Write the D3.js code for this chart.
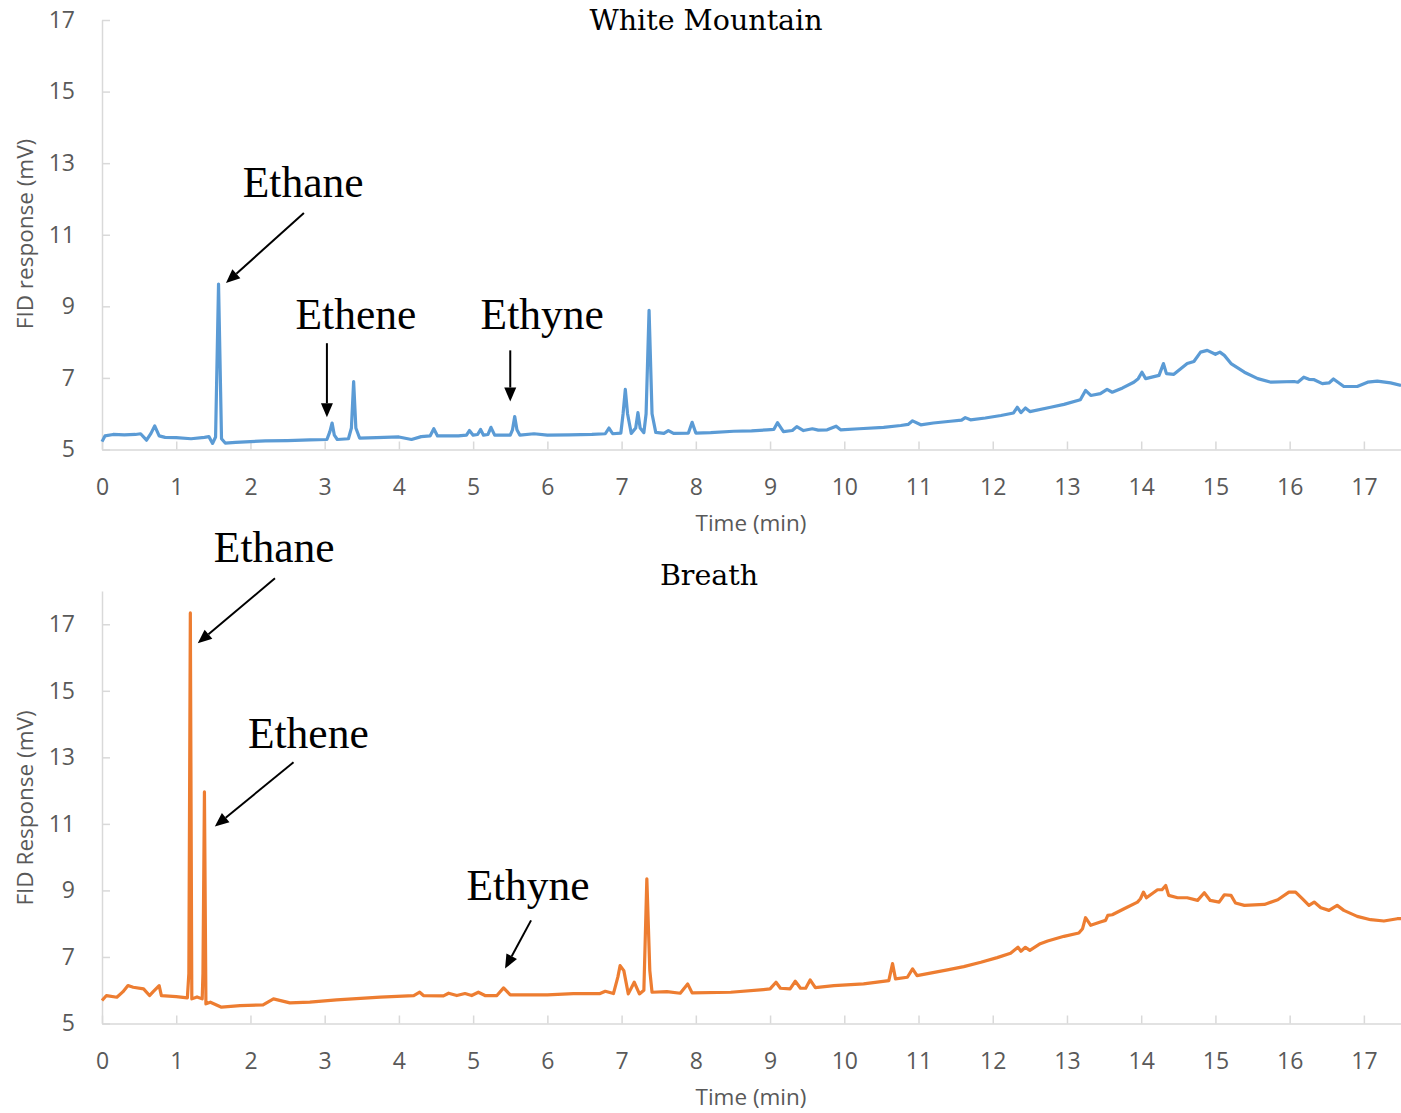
<!DOCTYPE html>
<html>
<head>
<meta charset="utf-8">
<script src="https://cdn.jsdelivr.net/npm/d3@7"></script>
<style>
  body { margin: 0; background: #fff; }
  .tick text { font-family: "Open Sans", sans-serif; fill: #595959; }
  .axis-title { font-family: "Open Sans", sans-serif; fill: #595959; }
  .chart-title { font-family: "DejaVu Serif", serif; fill: #000; }
  .annot { font-family: "Liberation Serif", "Times New Roman", serif; fill: #000; }
</style>
</head>
<body>
<div id="chart"></div>
<script>
// chromatograms: [time (min), FID (mV)]
var whiteMountain = [
  [0, 5.22], [0.04, 5.38], [0.15, 5.42], [0.3, 5.41], [0.45, 5.42], [0.52, 5.44], [0.6, 5.26], [0.66, 5.45],
  [0.71, 5.66], [0.77, 5.38], [0.85, 5.34], [1.0, 5.33], [1.2, 5.3], [1.38, 5.34], [1.44, 5.36], [1.49, 5.17],
  [1.53, 5.35], [1.57, 9.62], [1.61, 5.3], [1.66, 5.18], [1.8, 5.2], [2.0, 5.22], [2.2, 5.24], [2.5, 5.25],
  [2.8, 5.27], [3.03, 5.28], [3.07, 5.5], [3.1, 5.74], [3.13, 5.4], [3.17, 5.28], [3.32, 5.3], [3.36, 5.6],
  [3.39, 6.9], [3.42, 5.6], [3.47, 5.32], [3.7, 5.33], [4.0, 5.35], [4.17, 5.28], [4.3, 5.36], [4.42, 5.38],
  [4.47, 5.58], [4.52, 5.38], [4.8, 5.38], [4.91, 5.4], [4.95, 5.53], [5.0, 5.4], [5.06, 5.42], [5.1, 5.56],
  [5.14, 5.4], [5.2, 5.42], [5.24, 5.62], [5.29, 5.4], [5.5, 5.4], [5.53, 5.55], [5.56, 5.92], [5.59, 5.55],
  [5.63, 5.4], [5.82, 5.44], [6.0, 5.4], [6.3, 5.41], [6.6, 5.42], [6.78, 5.44], [6.83, 5.6], [6.88, 5.44],
  [6.99, 5.46], [7.02, 6.0], [7.05, 6.68], [7.08, 6.0], [7.13, 5.45], [7.19, 5.6], [7.22, 6.03], [7.25, 5.6],
  [7.3, 5.47], [7.33, 6.0], [7.37, 8.89], [7.41, 6.0], [7.46, 5.48], [7.57, 5.45], [7.63, 5.53], [7.7, 5.45],
  [7.9, 5.46], [7.95, 5.76], [8.0, 5.46], [8.2, 5.47], [8.51, 5.51], [8.75, 5.52], [8.96, 5.55], [9.05, 5.56],
  [9.1, 5.75], [9.18, 5.5], [9.3, 5.53], [9.36, 5.64], [9.45, 5.53], [9.57, 5.58], [9.65, 5.54], [9.77, 5.55],
  [9.89, 5.65], [9.95, 5.55], [10.2, 5.58], [10.53, 5.62], [10.76, 5.67], [10.86, 5.7], [10.92, 5.8], [11.03, 5.69],
  [11.2, 5.74], [11.43, 5.79], [11.58, 5.82], [11.63, 5.89], [11.7, 5.83], [11.9, 5.88], [12.11, 5.95], [12.28, 6.02],
  [12.33, 6.18], [12.38, 6.03], [12.44, 6.16], [12.5, 6.06], [12.78, 6.18], [12.96, 6.26], [13.18, 6.39], [13.25, 6.65],
  [13.32, 6.51], [13.45, 6.56], [13.54, 6.68], [13.61, 6.6], [13.75, 6.72], [13.9, 6.88], [13.96, 6.98], [14.01, 7.16],
  [14.06, 6.98], [14.24, 7.07], [14.3, 7.4], [14.34, 7.12], [14.44, 7.1], [14.62, 7.4], [14.71, 7.46], [14.8, 7.72],
  [14.89, 7.77], [15.0, 7.66], [15.06, 7.72], [15.12, 7.63], [15.21, 7.4], [15.39, 7.16], [15.57, 6.98], [15.75, 6.88],
  [16.06, 6.9], [16.11, 6.88], [16.19, 7.02], [16.26, 6.96], [16.33, 6.95], [16.44, 6.84], [16.53, 6.86], [16.59, 6.97],
  [16.73, 6.76], [16.91, 6.76], [17.05, 6.88], [17.18, 6.91], [17.36, 6.86], [17.5, 6.79]
];

var breath = [
  [0, 5.69], [0.06, 5.84], [0.2, 5.79], [0.28, 5.95], [0.35, 6.14], [0.42, 6.09], [0.56, 6.04], [0.64, 5.84],
  [0.69, 5.96], [0.77, 6.14], [0.8, 5.84], [1.0, 5.81], [1.15, 5.77], [1.17, 6.5], [1.19, 17.34], [1.21, 5.74],
  [1.28, 5.8], [1.35, 5.74], [1.36, 6.5], [1.38, 11.96], [1.40, 5.59], [1.46, 5.64], [1.61, 5.49], [1.86, 5.54],
  [2.17, 5.56], [2.31, 5.74], [2.53, 5.62], [2.8, 5.64], [3.16, 5.71], [3.75, 5.79], [4.2, 5.84], [4.28, 5.94],
  [4.33, 5.84], [4.6, 5.83], [4.67, 5.91], [4.78, 5.84], [4.89, 5.9], [4.98, 5.84], [5.07, 5.94], [5.16, 5.84],
  [5.32, 5.84], [5.41, 6.07], [5.5, 5.86], [6.0, 5.86], [6.35, 5.9], [6.71, 5.9], [6.78, 5.97], [6.89, 5.9],
  [6.95, 6.4], [6.98, 6.74], [7.03, 6.59], [7.09, 5.89], [7.17, 6.24], [7.24, 5.89], [7.30, 6.0], [7.34, 9.35],
  [7.38, 6.59], [7.41, 5.94], [7.61, 5.96], [7.79, 5.91], [7.89, 6.19], [7.95, 5.92], [8.47, 5.94], [8.91, 6.02],
  [9.0, 6.04], [9.08, 6.24], [9.14, 6.06], [9.27, 6.04], [9.34, 6.27], [9.41, 6.06], [9.48, 6.06], [9.54, 6.31],
  [9.61, 6.08], [9.86, 6.14], [10.26, 6.19], [10.6, 6.29], [10.65, 6.8], [10.69, 6.34], [10.85, 6.39], [10.92, 6.64],
  [10.98, 6.44], [11.39, 6.61], [11.61, 6.71], [11.84, 6.84], [12.06, 6.98], [12.24, 7.11], [12.34, 7.29], [12.38, 7.17],
  [12.44, 7.29], [12.5, 7.2], [12.64, 7.4], [12.74, 7.48], [12.96, 7.62], [13.16, 7.72], [13.21, 7.85], [13.25, 8.18],
  [13.32, 7.95], [13.45, 8.05], [13.52, 8.1], [13.55, 8.25], [13.61, 8.27], [13.77, 8.45], [13.95, 8.65], [13.99, 8.75],
  [14.03, 8.95], [14.07, 8.78], [14.22, 9.02], [14.28, 9.02], [14.33, 9.15], [14.37, 8.85], [14.49, 8.78], [14.62, 8.78],
  [14.76, 8.7], [14.85, 8.93], [14.93, 8.7], [15.05, 8.65], [15.12, 8.87], [15.21, 8.85], [15.27, 8.62], [15.39, 8.55],
  [15.66, 8.58], [15.84, 8.72], [15.99, 8.95], [16.08, 8.95], [16.17, 8.75], [16.26, 8.55], [16.33, 8.65], [16.42, 8.48],
  [16.53, 8.4], [16.64, 8.55], [16.73, 8.4], [16.91, 8.22], [17.09, 8.12], [17.27, 8.08], [17.45, 8.15], [17.5, 8.15]
];

var xTicks = d3.range(0, 18);
var yTicks = [5, 7, 9, 11, 13, 15, 17];

// peak labels: label anchor, arrow tail and arrow tip, all in (time, mV)
var wmLabels = [
  {name: "Ethane", text: [2.71, 12.05], from: [2.72, 11.61], to: [1.67, 9.65]},
  {name: "Ethene", text: [3.42, 8.36], from: [3.03, 7.97], to: [3.03, 5.9]},
  {name: "Ethyne", text: [5.93, 8.36], from: [5.50, 7.77], to: [5.50, 6.34]}
];
var brLabels = [
  {name: "Ethane", text: [2.32, 18.86], from: [2.33, 18.38], to: [1.29, 16.43]},
  {name: "Ethene", text: [2.78, 13.27], from: [2.58, 12.85], to: [1.52, 10.92]},
  {name: "Ethyne", text: [5.74, 8.70], from: [5.78, 8.10], to: [5.43, 6.65]}
];

var width = 1401, height = 1113;

var svg = d3.select("#chart").append("svg")
  .attr("width", width)
  .attr("height", height)
  .style("display", "block");

var panels = [
  {title: "White Mountain", ytitle: "FID response (mV)", data: whiteMountain, labels: wmLabels,
   color: "#5B9BD5", ymax: 17, bottom: 449.5, top: 20, titleX: 706, titleY: 20, ytitleY: 234},
  {title: "Breath", ytitle: "FID Response (mV)", data: breath, labels: brLabels,
   color: "#ED7D31", ymax: 18, bottom: 1023.5, top: 591, titleX: 709, titleY: 575, ytitleY: 808}
];

var left = 102;

panels.forEach(function(p) {
  var x = d3.scaleLinear().domain([0, 17.5]).range([left, width]);
  var y = d3.scaleLinear().domain([5, p.ymax]).range([p.bottom, p.top]);

  var g = svg.append("g");

  // x axis, ticks pointing up into the plot
  g.append("g")
    .attr("transform", "translate(0," + p.bottom + ")")
    .call(d3.axisBottom(x).tickValues(xTicks).tickSizeInner(-8).tickSizeOuter(0).tickPadding(29))
    .call(function(a) {
      a.select(".domain").attr("stroke", "#D9D9D9").attr("stroke-width", 1.5);
      a.selectAll(".tick line").attr("stroke", "#D9D9D9").attr("stroke-width", 1.5);
      a.selectAll(".tick text").style("font-size", "23px");
    });

  g.append("g")
    .attr("transform", "translate(" + left + ",0)")
    .call(d3.axisLeft(y).tickValues(yTicks).tickSizeInner(-8).tickSizeOuter(0).tickPadding(27))
    .call(function(a) {
      a.select(".domain").attr("stroke", "#D9D9D9").attr("stroke-width", 1.5);
      a.selectAll(".tick line").attr("stroke", "#D9D9D9").attr("stroke-width", 1.5);
      a.selectAll(".tick text").style("font-size", "23px");
    });

  // series
  var line = d3.line()
    .x(function(d) { return x(d[0]); })
    .y(function(d) { return y(d[1]); });

  g.append("path")
    .datum(p.data)
    .attr("d", line)
    .attr("fill", "none")
    .attr("stroke", p.color)
    .attr("stroke-width", 3.2)
    .attr("stroke-linejoin", "round");

  // titles
  g.append("text")
    .attr("class", "chart-title")
    .attr("x", p.titleX)
    .attr("y", p.titleY)
    .attr("dy", "0.35em")
    .attr("text-anchor", "middle")
    .style("font-size", "28.5px")
    .text(p.title);

  g.append("text")
    .attr("class", "axis-title")
    .attr("x", 751)
    .attr("y", p.bottom + 74)
    .attr("dy", "0.35em")
    .attr("text-anchor", "middle")
    .style("font-size", "22.5px")
    .text("Time (min)");

  g.append("text")
    .attr("class", "axis-title")
    .attr("transform", "translate(25," + p.ytitleY + ") rotate(-90)")
    .attr("dy", "0.35em")
    .attr("text-anchor", "middle")
    .style("font-size", "22.5px")
    .text(p.ytitle);

  // peak labels and arrows
  p.labels.forEach(function(l) {
    g.append("text")
      .attr("class", "annot")
      .attr("x", x(l.text[0]))
      .attr("y", y(l.text[1]))
      .attr("text-anchor", "middle")
      .style("font-size", "43.5px")
      .text(l.name);

    var x1 = x(l.from[0]), y1 = y(l.from[1]);
    var x2 = x(l.to[0]), y2 = y(l.to[1]);
    var ang = Math.atan2(y2 - y1, x2 - x1);
    var headLen = 14, headW = 6;
    var bx = x2 - headLen * Math.cos(ang), by = y2 - headLen * Math.sin(ang);

    g.append("line")
      .attr("x1", x1).attr("y1", y1)
      .attr("x2", bx).attr("y2", by)
      .attr("stroke", "#000")
      .attr("stroke-width", 2);

    g.append("path")
      .attr("d", "M" + x2 + "," + y2 +
        "L" + (bx + headW * Math.sin(ang)) + "," + (by - headW * Math.cos(ang)) +
        "L" + (bx - headW * Math.sin(ang)) + "," + (by + headW * Math.cos(ang)) + "Z")
      .attr("fill", "#000");
  });
});
</script>
</body>
</html>
